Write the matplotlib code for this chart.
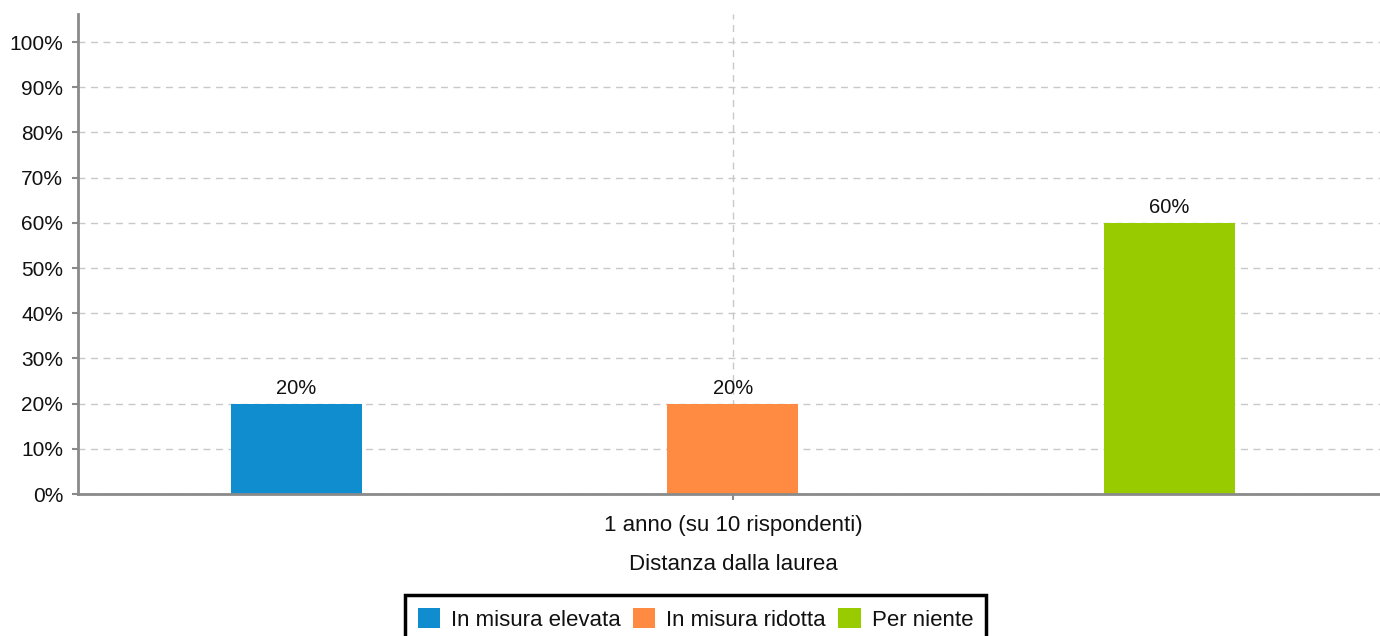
import matplotlib
matplotlib.use("Agg")
import matplotlib.pyplot as plt
from matplotlib.ticker import FuncFormatter, FixedLocator

plt.rcParams['font.family'] = ['Liberation Sans', 'DejaVu Sans']

categories = ["1 anno (su 10 rispondenti)"]
series_names = ["In misura elevata", "In misura ridotta", "Per niente"]
series_values = [[20], [20], [60]]
series_colors = ["#108dcf", "#ff8b42", "#99cc00"]
y_ticks = [0, 10, 20, 30, 40, 50, 60, 70, 80, 90, 100]
x_label = "Distanza dalla laurea"

fig = plt.figure(figsize=(13.8, 6.36), dpi=100)
ax = fig.add_axes([78/1380, (636-494)/636, 1310/1380, 480/636])

n = len(series_names)
width = 0.3
handles = []
for i, (name, vals, col) in enumerate(zip(series_names, series_values, series_colors)):
    xs = [c + (i - (n - 1) / 2) for c in range(len(categories))]
    b = ax.bar(xs, vals, width=width, color=col, label=name, zorder=3)
    handles.append(b)
    for x, v in zip(xs, vals):
        ax.annotate(f"{v:g}%", (x, v), xytext=(0, 4), textcoords="offset points",
                    ha="center", va="bottom", fontsize=14.5, color="#111111", zorder=4)

ax.set_xlim(-1.5, len(categories) - 1 + 1.5)
ax.set_ylim(0, 106.2)
ax.yaxis.set_major_locator(FixedLocator(y_ticks))
ax.yaxis.set_major_formatter(FuncFormatter(lambda v, p: f"{v:g}%"))
ax.set_xticks(range(len(categories)))
ax.set_xticklabels(categories)

ax.grid(True, axis="both", color="#c8c8c8", linestyle=(0, (5, 4)), linewidth=1.0, zorder=0)
ax.set_axisbelow(True)

for s in ["top", "right"]:
    ax.spines[s].set_visible(False)
for s in ["left", "bottom"]:
    ax.spines[s].set_color("#8a8a8a")
    ax.spines[s].set_linewidth(2.0)
    ax.spines[s].set_zorder(5)

ax.tick_params(axis="y", length=4, width=1.5, color="#8a8a8a", labelsize=15, labelcolor="#111111", pad=6.8)
ax.tick_params(axis="x", length=4, width=1.5, color="#8a8a8a", labelsize=16, labelcolor="#111111", pad=11)
ax.set_xlabel(x_label, fontsize=16, color="#111111", labelpad=13)

leg = fig.legend(handles=handles, labels=series_names, loc="upper center",
                 bbox_to_anchor=(695.5/1380, 1 - 595/636), ncol=3, fontsize=16,
                 frameon=True, fancybox=False, edgecolor="#000000", framealpha=1.0,
                 handlelength=1.0, handleheight=1.0, handletextpad=0.5,
                 columnspacing=0.55, borderpad=0.6, borderaxespad=0)
leg.get_frame().set_linewidth(2.5)
for t in leg.get_texts():
    t.set_color("#111111")

fig.savefig("out.png", dpi=100)
